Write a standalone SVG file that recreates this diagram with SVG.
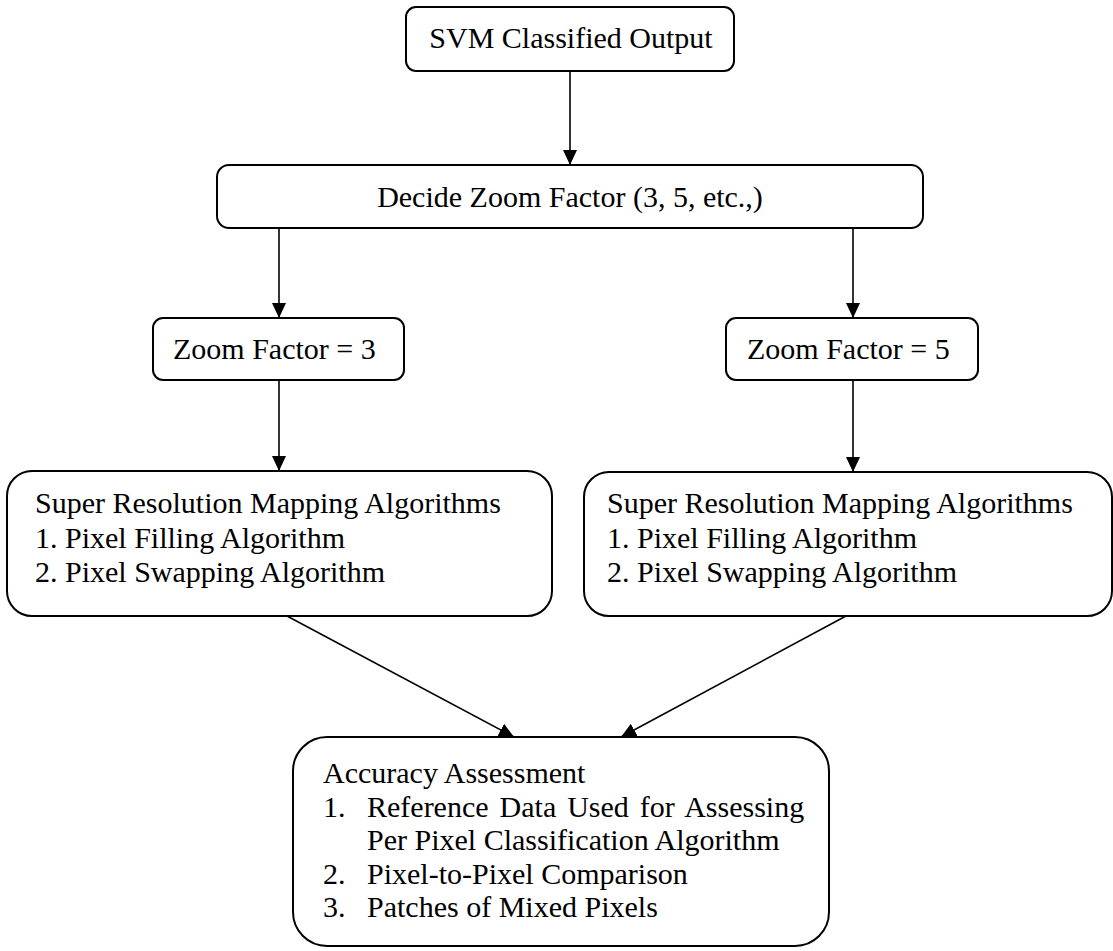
<svg xmlns="http://www.w3.org/2000/svg" width="1113" height="951" viewBox="0 0 1113 951">
<style>
.box{fill:#fff;stroke:#000;stroke-width:2}
.t{font-family:"Liberation Serif","Times New Roman",serif;font-size:30px;fill:#000}
.c{text-anchor:middle}
.edge{stroke:#000;stroke-width:1.6;fill:none;marker-end:url(#ah)}
</style>
<defs>
<marker id="ah" markerUnits="userSpaceOnUse" markerWidth="15" markerHeight="14" refX="15" refY="7" orient="auto">
<path d="M0,0 L15,7 L0,14 Z" fill="#000"/>
</marker>
</defs>
<rect width="1113" height="951" fill="#fff"/>
<g id="connectors">
<line class="edge" x1="570" y1="71" x2="570" y2="165"/>
<line class="edge" x1="279" y1="228" x2="279" y2="318"/>
<line class="edge" x1="853" y1="228" x2="853" y2="318"/>
<line class="edge" x1="279" y1="380" x2="279" y2="471"/>
<line class="edge" x1="853" y1="380" x2="853" y2="472"/>
<line class="edge" x1="287" y1="616" x2="514" y2="737"/>
<line class="edge" x1="846" y1="616" x2="621" y2="737"/>
</g>
<g id="svm">
<rect class="box" x="406" y="7" width="328" height="64" rx="10"/>
<text class="t c" x="571" y="48">SVM Classified Output</text>
</g>
<g id="decide">
<rect class="box" x="217" y="165" width="706" height="63" rx="12"/>
<text class="t c" x="570" y="207">Decide Zoom Factor (3, 5, etc.,)</text>
</g>
<g id="zoom3">
<rect class="box" x="153" y="318" width="251" height="62" rx="10"/>
<text class="t" x="173" y="359">Zoom Factor = 3</text>
</g>
<g id="zoom5">
<rect class="box" x="726" y="318" width="252" height="62" rx="10"/>
<text class="t" x="747" y="359">Zoom Factor = 5</text>
</g>
<g id="srm-left">
<rect class="box" x="7" y="471" width="545" height="145" rx="25"/>
<text class="t" x="35" y="513">Super Resolution Mapping Algorithms</text>
<text class="t" x="35" y="548">1. Pixel Filling Algorithm</text>
<text class="t" x="35" y="582">2. Pixel Swapping Algorithm</text>
</g>
<g id="srm-right">
<rect class="box" x="584" y="472" width="528" height="144" rx="25"/>
<text class="t" x="607" y="513">Super Resolution Mapping Algorithms</text>
<text class="t" x="607" y="548">1. Pixel Filling Algorithm</text>
<text class="t" x="607" y="582">2. Pixel Swapping Algorithm</text>
</g>
<g id="accuracy">
<rect class="box" x="293" y="737" width="536" height="209" rx="34"/>
<text class="t" x="323" y="783">Accuracy Assessment</text>
<text class="t" x="323" y="817">1.</text>
<text class="t" x="367" y="817" word-spacing="3.5">Reference Data Used for Assessing</text>
<text class="t" x="367" y="850">Per Pixel Classification Algorithm</text>
<text class="t" x="323" y="884">2.</text>
<text class="t" x="367" y="884">Pixel-to-Pixel Comparison</text>
<text class="t" x="323" y="917">3.</text>
<text class="t" x="367" y="917">Patches of Mixed Pixels</text>
</g>
</svg>
